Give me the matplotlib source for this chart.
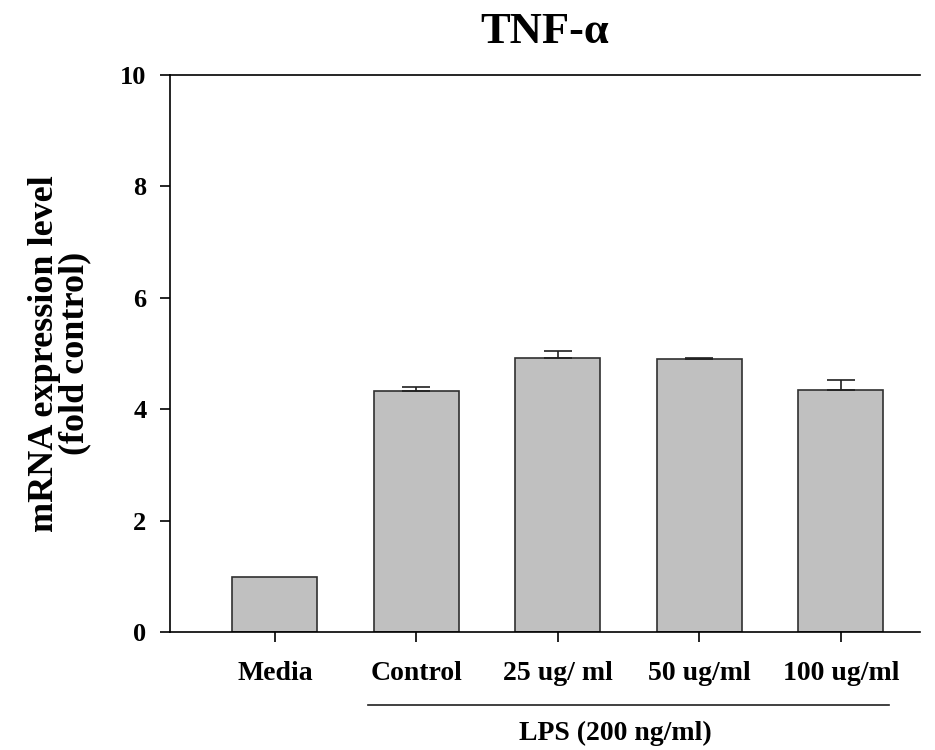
import matplotlib.pyplot as plt
import matplotlib.transforms as mtransforms
import numpy as np

plt.rcParams['font.family'] = ['Liberation Serif', 'DejaVu Serif']
plt.rcParams['font.weight'] = 'bold'

groups = ['Media', 'Control', '25 ug/ ml', '50 ug/ml', '100 ug/ml']
expression = [1.0, 4.33, 4.92, 4.90, 4.34]
sem = [0.0, 0.07, 0.13, 0.02, 0.18]

fig = plt.figure(figsize=(9.35, 7.5), dpi=100)
ax = fig.add_axes([0.182, 0.157, 0.802, 0.743])

x = np.arange(len(groups))
ax.bar(x, expression, width=0.6, color='#c0c0c0', edgecolor='#303030', linewidth=1.2, zorder=2)
# upper half of the error bars only, media has none
ax.errorbar(x[1:], expression[1:], yerr=[np.zeros(len(sem) - 1), sem[1:]], fmt='none',
            ecolor='#202020', elinewidth=1.2, capsize=10, capthick=1.2, zorder=3)

ax.set_xlim(-0.74, 4.56)
ax.set_ylim(0, 10)
ax.set_yticks(np.arange(0, 11, 2))
ax.set_xticks(x)
ax.set_xticklabels(groups, fontsize=20, fontweight='bold')
ax.tick_params(axis='y', labelsize=19, direction='out', length=7, width=1.2, pad=10)
ax.tick_params(axis='x', direction='out', length=7, width=1.2, pad=14)
for lab in ax.get_yticklabels():
    lab.set_fontweight('bold')

ax.spines['right'].set_visible(False)
for side in ['left', 'bottom', 'top']:
    ax.spines[side].set_linewidth(1.2)

ax.set_ylabel('mRNA expression level\n(fold control)', fontsize=26, fontweight='bold',
              labelpad=21, linespacing=0.9)
ax.set_title('TNF-\u03b1', fontsize=32, fontweight='bold', pad=23)

# bracket line for the LPS-treated groups
trans = mtransforms.blended_transform_factory(ax.transData, ax.transAxes)
ax.plot([0.66, 4.34], [-0.131, -0.131], color='#202020', linewidth=1.2, transform=trans, clip_on=False)
ax.text(2.41, -0.182, 'LPS (200 ng/ml)', transform=trans, ha='center', va='center',
        fontsize=20, fontweight='bold')

fig.savefig('out.png', dpi=100)
